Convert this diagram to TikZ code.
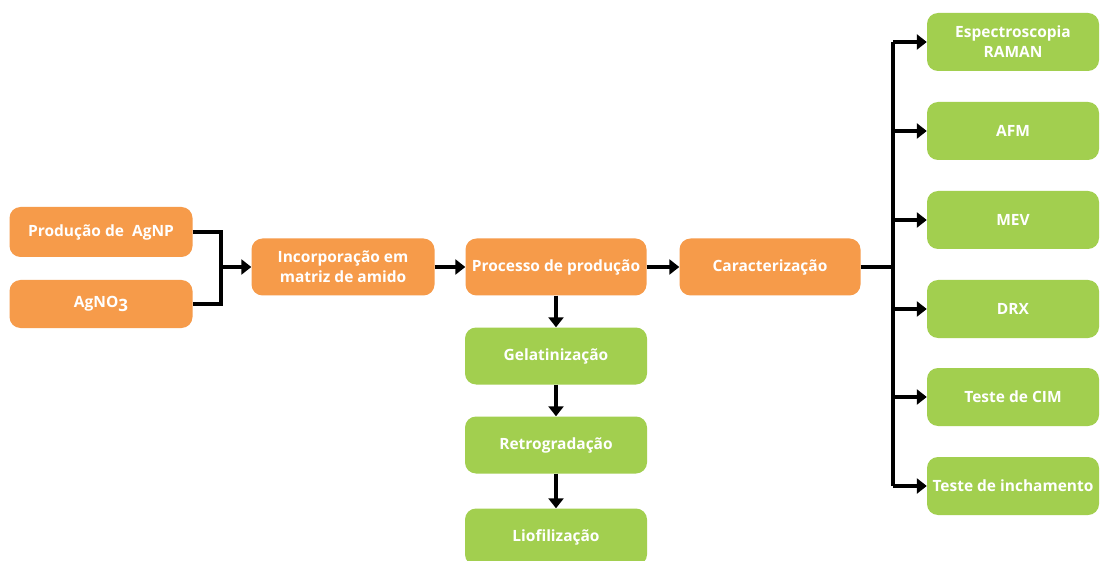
\documentclass[tikz,border=0pt]{standalone}
\usepackage{fontspec}
\setmainfont{Open Sans}
\usetikzlibrary{arrows.meta}
\definecolor{boxorange}{RGB}{246,155,74}
\definecolor{boxgreen}{RGB}{162,207,79}
\begin{document}
\begin{tikzpicture}[x=1pt,y=-1pt,
  base/.style={rounded corners=11pt,text=white,font=\fontsize{15.5}{20}\selectfont\bfseries,align=center,inner sep=0pt,anchor=center},
  obox/.style={base,fill=boxorange,minimum width=183pt,minimum height=52pt},
  gbox/.style={base,fill=boxgreen,minimum width=182pt,minimum height=57pt},
  rbox/.style={base,fill=boxgreen,minimum width=172pt,minimum height=58pt},
  conn/.style={line width=3.6pt,draw=black},
  arr/.style={conn,-{Triangle[length=10pt,width=15pt]}}]
\useasboundingbox (0,0) rectangle (1100,561);
\fill[white] (0,0) rectangle (1100,561);
\node[obox,minimum height=50pt] (agnp) at (101,232) {Produção de\ \ AgNP};
\node[obox,minimum height=48pt] (agno) at (101,304) {AgNO\raisebox{-0.45ex}{\fontsize{17}{17}\selectfont 3}};
\node[obox,minimum height=57pt] (inc) at (343,267) {Incorporação em\\matriz de amido};
\node[obox,minimum width=181pt,minimum height=57pt] (proc) at (556,267) {Processo de produção};
\node[obox,minimum width=181pt,minimum height=57pt] (car) at (770,267) {Caracterização};
\node[gbox] (gel) at (556,356) {Gelatinização};
\node[gbox] (ret) at (556,445) {Retrogradação};
\node[gbox] (lio) at (556,537) {Liofilização};
\node[rbox] (raman) at (1013,42) {Espectroscopia\\RAMAN};
\node[rbox] (afm) at (1013,131) {AFM};
\node[rbox] (mev) at (1013,220) {MEV};
\node[rbox] (drx) at (1013,309) {DRX};
\node[rbox] (cim) at (1013,397) {Teste de CIM};
\node[rbox] (inch) at (1013,486) {Teste de inchamento};
\coordinate (j1) at (221,267);
\coordinate (j2) at (893,267);
\draw[conn] (agnp.east) -| (j1) |- (agno.east);
\draw[arr] (j1) -- (inc.west);
\draw[arr] (inc.east) -- (proc.west);
\draw[arr] (proc.east) -- (car.west);
\draw[conn] (car.east) -- (j2);
\draw[conn] (893,42) -- (893,486);
\foreach \n in {raman,afm,mev,drx,cim,inch}{
  \draw[arr] (893,0 |- \n.west) -- (\n.west);
}
\draw[arr] (proc.south) -- (gel.north);
\draw[arr] (gel.south) -- (ret.north);
\draw[arr] (ret.south) -- (lio.north);
\end{tikzpicture}
\end{document}
